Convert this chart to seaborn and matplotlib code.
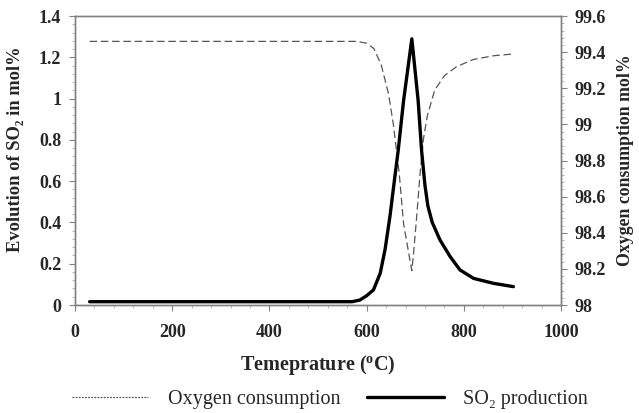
import numpy as np
import pandas as pd
import matplotlib
matplotlib.use("Agg")
import matplotlib.pyplot as plt
import seaborn as sns
from matplotlib.ticker import MultipleLocator, FuncFormatter
from matplotlib.lines import Line2D

# Data
o2_temp = [30, 200, 400, 580, 600, 615, 630, 645, 655, 667, 676, 689, 693,
           697, 703, 710, 717, 725, 740, 760, 785, 820, 860, 900]
o2_val = [99.46, 99.46, 99.46, 99.46, 99.45, 99.42, 99.33, 99.17, 99.0, 98.73,
          98.45, 98.25, 98.19, 98.3, 98.49, 98.73, 98.92, 99.05, 99.19, 99.27,
          99.32, 99.36, 99.38, 99.39]

so2_temp = [30, 200, 400, 570, 586, 600, 614, 628, 638, 648, 658, 665, 676,
            693, 706, 713, 720, 726, 735, 751, 772, 792, 820, 861, 902]
so2_val = [0.016, 0.016, 0.016, 0.016, 0.024, 0.045, 0.073, 0.154, 0.27, 0.43,
           0.62, 0.75, 0.99, 1.29, 0.99, 0.75, 0.58, 0.48, 0.40, 0.315, 0.234,
           0.17, 0.129, 0.105, 0.089]

sns.set_style("white")
plt.rcParams['font.family'] = ['Liberation Serif', 'DejaVu Serif']
plt.rcParams['mathtext.fontset'] = 'custom'
plt.rcParams['mathtext.rm'] = 'Liberation Serif:bold'
plt.rcParams['mathtext.bf'] = 'Liberation Serif:bold'
plt.rcParams['mathtext.it'] = 'Liberation Serif:bold'

fig = plt.figure(figsize=(6.39, 4.13), dpi=100)
ax = fig.add_axes([0.1174, 0.2615, 0.7606, 0.6995])
ax2 = ax.twinx()

so2_df = pd.DataFrame({"T": so2_temp, "v": so2_val})
o2_df = pd.DataFrame({"T": o2_temp, "v": o2_val})

sns.lineplot(data=so2_df, x="T", y="v", ax=ax, color="black", lw=2.4, zorder=3)
sns.lineplot(data=o2_df, x="T", y="v", ax=ax2, color="#555555", lw=0.9,
             linestyle=(0, (6, 3)))
ax.set_zorder(ax2.get_zorder() + 1)
ax.patch.set_visible(False)

ax.set_xlim(0, 1000)
ax.set_ylim(0, 1.4)
ax2.set_ylim(98, 99.6)

ax.xaxis.set_major_locator(MultipleLocator(200))
ax.xaxis.set_minor_locator(MultipleLocator(40))
ax.yaxis.set_major_locator(MultipleLocator(0.2))
ax.yaxis.set_minor_locator(MultipleLocator(0.04))
ax2.yaxis.set_major_locator(MultipleLocator(0.2))
ax2.yaxis.set_minor_locator(MultipleLocator(0.04))

def fmt(v, p):
    s = f"{v:.1f}"
    if s.endswith(".0"):
        s = s[:-2]
    return s

ax.yaxis.set_major_formatter(FuncFormatter(fmt))
ax2.yaxis.set_major_formatter(FuncFormatter(fmt))

for a in (ax, ax2):
    for s in a.spines.values():
        s.set_color("#808080")
        s.set_linewidth(1.0)
    a.tick_params(which="major", direction="out", length=4, width=0.8,
                  color="#808080", labelsize=13, pad=6)
    a.tick_params(which="minor", direction="out", length=2, width=0.6,
                  color="#aaaaaa")
    for lbl in a.get_xticklabels() + a.get_yticklabels():
        lbl.set_fontweight("bold")

ax.tick_params(axis="x", which="both", bottom=True)
ax.tick_params(axis="y", which="both", left=True)
ax2.tick_params(axis="y", which="both", right=True)
ax.tick_params(axis="x", pad=10)

ax.set_xlabel(r"Temeprature ($^{\mathrm{o}}$C)", fontsize=14.5,
              fontweight="bold")
ax.xaxis.set_label_coords(0.5, -0.165)
ax.set_ylabel("Evolution of SO₂ in mol%", fontsize=13.3, fontweight="bold")
ax.yaxis.set_label_coords(-0.105, 0.54)
ax2.set_ylabel("Oxygen consumption mol%", fontsize=12.8, fontweight="bold")
ax2.yaxis.set_label_coords(1.116, 0.5)

handles = [Line2D([], [], color="#555555", lw=0.9, linestyle=(0, (1.5, 1))),
           Line2D([], [], color="black", lw=2.4)]
fig.legend(handles, ["Oxygen consumption", "SO₂ production"],
           loc="center", bbox_to_anchor=(0.516, 0.032), ncol=2,
           frameon=False, fontsize=14.5, handlelength=3.8, columnspacing=1.35,
           handletextpad=0.95, borderpad=0, borderaxespad=0)

fig.savefig("out.png", dpi=100)
